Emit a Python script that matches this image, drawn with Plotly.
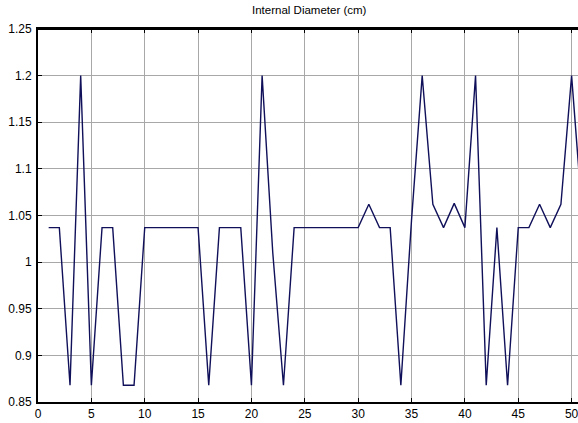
import plotly.graph_objects as go

x_index = list(range(1, 52))
diameter = [
    1.037, 1.037, 0.868, 1.2, 0.868, 1.037, 1.037, 0.868, 0.868, 1.037,
    1.037, 1.037, 1.037, 1.037, 1.037, 0.868, 1.037, 1.037, 1.037, 0.868,
    1.2, 1.01, 0.868, 1.037, 1.037, 1.037, 1.037, 1.037, 1.037, 1.037,
    1.062, 1.037, 1.037, 0.868, 1.045, 1.2, 1.062, 1.037, 1.063, 1.037,
    1.2, 0.868, 1.037, 0.868, 1.037, 1.037, 1.062, 1.037, 1.062, 1.2,
    1.05,
]
x_ticks = [0, 5, 10, 15, 20, 25, 30, 35, 40, 45, 50]
y_ticks = [0.85, 0.9, 0.95, 1.0, 1.05, 1.1, 1.15, 1.2, 1.25]

FONT = "Liberation Sans Narrow, Liberation Sans, Arial, sans-serif"

fig = go.Figure()
fig.add_trace(go.Scatter(
    x=x_index, y=diameter, mode="lines",
    line=dict(color="#10105a", width=1.4),
    showlegend=False, hoverinfo="skip",
))

fig.update_layout(
    width=578, height=423,
    margin=dict(l=38, r=0, t=29, b=21),
    paper_bgcolor="white", plot_bgcolor="white",
    title=dict(text="Internal Diameter (cm)", x=0.535, xanchor="center",
               y=0.985, yanchor="top", font=dict(family=FONT, size=11.5, color="black")),
    font=dict(family=FONT, size=11.5, color="black"),
    shapes=[dict(type="line", xref="paper", yref="paper", x0=0, x1=1, y0=1, y1=1,
                 line=dict(color="black", width=2), layer="above")],
)
fig.update_xaxes(
    range=[0, 50.6], tickvals=x_ticks, ticks="inside", ticklen=4, tickwidth=1,
    tickcolor="black", showline=True, linecolor="black", linewidth=2, mirror="allticks",
    showgrid=True, gridcolor="#a8a8a8", gridwidth=1, zeroline=False,
    tickfont=dict(family=FONT, size=12), ticklabelstandoff=0,
    ticklabeloverflow="allow",
)
fig.update_yaxes(
    range=[0.85, 1.25], tickvals=y_ticks, ticks="inside", ticklen=4, tickwidth=1,
    tickcolor="black", showline=True, linecolor="black", linewidth=2,
    showgrid=True, gridcolor="#a8a8a8", gridwidth=1, zeroline=False,
    tickfont=dict(family=FONT, size=12), ticklabelstandoff=2,
)

fig.write_html("out.html")
